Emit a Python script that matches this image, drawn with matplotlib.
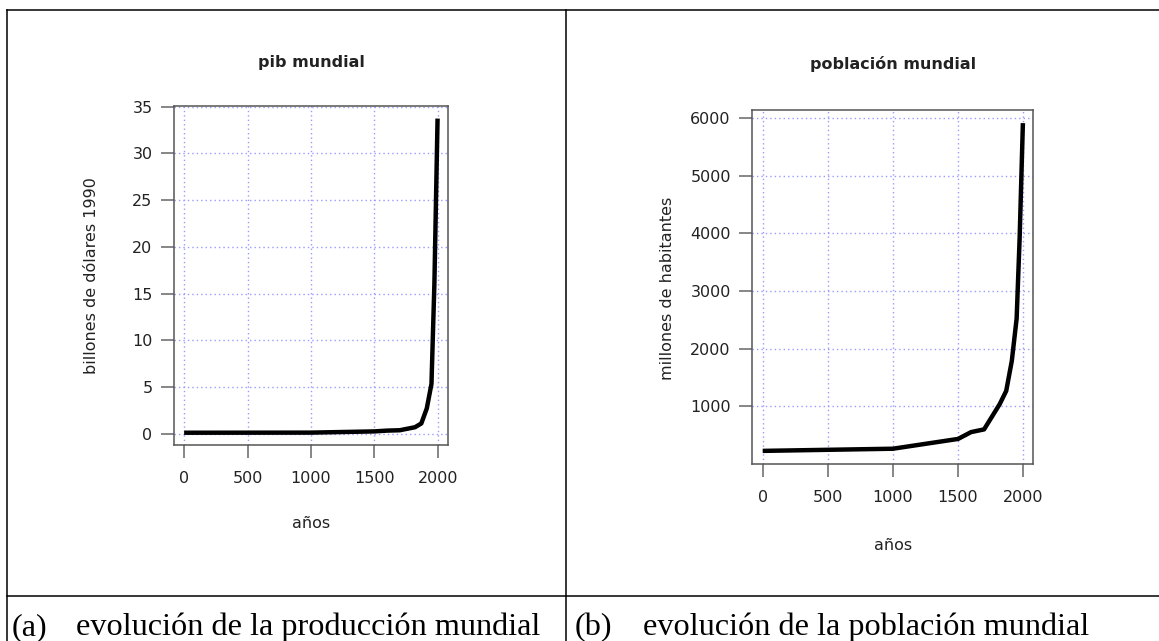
import numpy as np
import matplotlib
matplotlib.use("Agg")
import matplotlib.pyplot as plt
from matplotlib.lines import Line2D

# Maddison series: world GDP (trillions of 1990 dollars) and population (millions)
years = [0, 1000, 1500, 1600, 1700, 1820, 1870, 1913, 1950, 1973, 1998]
pib = [0.105, 0.117, 0.248, 0.332, 0.371, 0.694, 1.101, 2.705, 5.336, 16.059, 33.726]
poblacion = [230.8, 268.3, 437.8, 556.1, 603.4, 1041.1, 1270.0, 1791.0, 2524.5, 3916.5, 5907.7]

x_ticks = [0, 500, 1000, 1500, 2000]
pib_ticks = [0, 5, 10, 15, 20, 25, 30, 35]
pob_ticks = [1000, 2000, 3000, 4000, 5000, 6000]

W, H = 1159, 641


def px(x, y):
    # pixel position (from top-left) -> figure fraction
    return x / W, 1 - y / H


def box(x0, y0, x1, y1):
    # axes rectangle from pixel corners
    return [x0 / W, 1 - y1 / H, (x1 - x0) / W, (y1 - y0) / H]


def r_style_plot(ax, x, y, yticks):
    ax.plot(x, y, color="black", lw=3.2, solid_capstyle="butt", zorder=3)
    ax.margins(0.04)
    ax.set_xticks(x_ticks)
    ax.set_yticks(yticks)
    ax.grid(True, color="#9a9aff", lw=1, linestyle=(0, (1, 2.2)), zorder=1)
    for s in ax.spines.values():
        s.set_color("#555555")
        s.set_linewidth(1.1)
    ax.tick_params(direction="out", length=9.5, width=1.1, color="#666666",
                   labelsize=11.5, labelcolor="#222222", pad=6)
    ax.tick_params(axis="x", pad=9)


plt.rcParams["font.family"] = ["DejaVu Sans"]
fig = plt.figure(figsize=(W / 100, H / 100), dpi=100)

# left panel: pib mundial
ax1 = fig.add_axes(box(174, 106, 447.7, 445.3))
r_style_plot(ax1, years, pib, pib_ticks)
fig.text(*px(311, 62), "pib mundial", ha="center", va="center",
         fontsize=11.5, fontweight="bold", color="#222222")
fig.text(*px(311, 524), "años", ha="center", va="center", fontsize=11.5, color="#222222")
fig.text(*px(91, 276), "billones de dólares 1990", ha="center", va="center",
         rotation=90, fontsize=11.5, color="#222222")

# right panel: población mundial
ax2 = fig.add_axes(box(752.3, 110, 1033.3, 464))
r_style_plot(ax2, years, poblacion, pob_ticks)
fig.text(*px(893, 64), "población mundial", ha="center", va="center",
         fontsize=11.5, fontweight="bold", color="#222222")
fig.text(*px(893, 546), "años", ha="center", va="center", fontsize=11.5, color="#222222")
fig.text(*px(668, 288), "millones de habitantes", ha="center", va="center",
         rotation=90, fontsize=11.5, color="#222222")

# table frame around the two panels
table_lines = [
    ((7, W), (10, 10)),
    ((7, 7), (10, H)),
    ((566, 566), (10, H)),
    ((7, W), (595.5, 595.5)),
]
for xs, ys in table_lines:
    fig.add_artist(Line2D([x / W for x in xs], [1 - y / H for y in ys],
                          color="black", lw=1.1))

serif = dict(family=["Liberation Serif", "DejaVu Serif"], fontsize=23.2, va="baseline")
fig.text(*px(12, 635), "(a)", **serif)
fig.text(*px(76, 635), "evolución de la producción mundial", **serif)
fig.text(*px(575, 635), "(b)", **serif)
fig.text(*px(643, 635), "evolución de la población mundial", **serif)

fig.savefig("out.png", dpi=100)
